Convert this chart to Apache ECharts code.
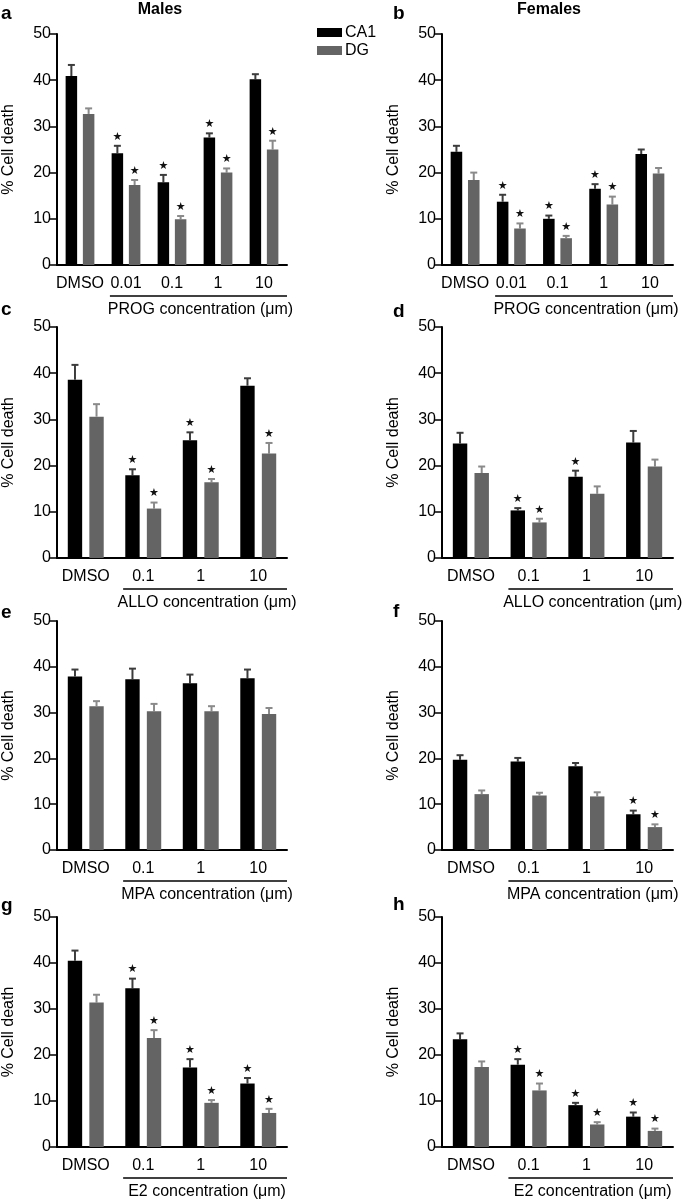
<!DOCTYPE html>
<html>
<head>
<meta charset="utf-8">
<script src="https://cdn.jsdelivr.net/npm/echarts@6/dist/echarts.min.js"></script>
<style>
html,body{margin:0;padding:0;background:#fff;}
#chart{width:685px;height:1201px;}
</style>
</head>
<body>
<div id="chart"></div>
<script>
// ---------- DATA ----------
const catsProg = ['DMSO', '0.01', '0.1', '1', '10'];
const catsOther = ['DMSO', '0.1', '1', '10'];
const seriesNames = ['CA1', 'DG'];
const yTicks = [0, 10, 20, 30, 40, 50];
const concLabels = ['PROG concentration (\u03bcm)', 'PROG concentration (\u03bcm)',
  'ALLO concentration (\u03bcm)', 'ALLO concentration (\u03bcm)',
  'MPA concentration (\u03bcm)', 'MPA concentration (\u03bcm)',
  'E2 concentration (\u03bcm)', 'E2 concentration (\u03bcm)'];
const panelLetters = ['a', 'b', 'c', 'd', 'e', 'f', 'g', 'h'];
const columnTitles = ['Males', 'Females'];

// panel a (Males, PROG)
const ca1Mean_a = [40.9, 24.2, 17.9, 27.6, 40.2];
const ca1Err_a  = [2.4, 1.6, 1.6, 0.9, 1.1];
const dgMean_a  = [32.7, 17.3, 9.9, 20.0, 25.0];
const dgErr_a   = [1.2, 1.1, 0.7, 0.9, 1.9];
const ca1Star_a = [0, 1, 1, 1, 0];
const dgStar_a  = [0, 1, 1, 1, 1];
// panel b (Females, PROG)
const ca1Mean_b = [24.5, 13.7, 10.0, 16.5, 24.0];
const ca1Err_b  = [1.3, 1.5, 0.7, 1.0, 1.0];
const dgMean_b  = [18.4, 7.9, 5.8, 13.1, 19.8];
const dgErr_b   = [1.6, 1.1, 0.5, 1.7, 1.2];
const ca1Star_b = [0, 1, 1, 1, 0];
const dgStar_b  = [0, 1, 1, 1, 0];
// panel c (Males, ALLO)
const ca1Mean_c = [38.6, 17.9, 25.5, 37.3];
const ca1Err_c  = [3.2, 1.3, 1.7, 1.6];
const dgMean_c  = [30.6, 10.7, 16.4, 22.6];
const dgErr_c   = [2.7, 1.3, 0.7, 2.3];
const ca1Star_c = [0, 1, 1, 0];
const dgStar_c  = [0, 1, 1, 1];
// panel d (Females, ALLO)
const ca1Mean_d = [24.8, 10.3, 17.6, 25.0];
const ca1Err_d  = [2.3, 0.5, 1.3, 2.5];
const dgMean_d  = [18.4, 7.7, 13.9, 19.8];
const dgErr_d   = [1.4, 0.8, 1.6, 1.5];
const ca1Star_d = [0, 1, 1, 0];
const dgStar_d  = [0, 1, 0, 0];
// panel e (Males, MPA)
const ca1Mean_e = [37.9, 37.3, 36.4, 37.5];
const ca1Err_e  = [1.5, 2.3, 1.9, 1.9];
const dgMean_e  = [31.4, 30.3, 30.3, 29.7];
const dgErr_e   = [1.1, 1.6, 1.1, 1.3];
const ca1Star_e = [0, 0, 0, 0];
const dgStar_e  = [0, 0, 0, 0];
// panel f (Females, MPA)
const ca1Mean_f = [19.7, 19.3, 18.3, 7.8];
const ca1Err_f  = [1.0, 0.8, 0.7, 0.8];
const dgMean_f  = [12.2, 11.9, 11.7, 5.0];
const dgErr_f   = [0.8, 0.6, 0.9, 0.6];
const ca1Star_f = [0, 0, 0, 1];
const dgStar_f  = [0, 0, 0, 1];
// panel g (Males, E2)
const ca1Mean_g = [40.5, 34.5, 17.3, 13.8];
const ca1Err_g  = [2.2, 2.1, 1.8, 1.2];
const dgMean_g  = [31.4, 23.7, 9.6, 7.4];
const dgErr_g   = [1.7, 1.7, 0.6, 0.9];
const ca1Star_g = [0, 1, 1, 1];
const dgStar_g  = [0, 1, 1, 1];
// panel h (Females, E2)
const ca1Mean_h = [23.4, 17.9, 9.1, 6.6];
const ca1Err_h  = [1.3, 1.2, 0.5, 0.9];
const dgMean_h  = [17.4, 12.3, 4.9, 3.5];
const dgErr_h   = [1.2, 1.5, 0.5, 0.5];
const ca1Star_h = [0, 1, 1, 1];
const dgStar_h  = [0, 1, 1, 1];

// ---------- LAYOUT ----------
const FONT = '"Liberation Sans", Arial, Helvetica, sans-serif';
const panels = [
  {cats: catsProg, m1: ca1Mean_a, e1: ca1Err_a, s1: ca1Star_a, m2: dgMean_a, e2: dgErr_a, s2: dgStar_a},
  {cats: catsProg, m1: ca1Mean_b, e1: ca1Err_b, s1: ca1Star_b, m2: dgMean_b, e2: dgErr_b, s2: dgStar_b},
  {cats: catsOther, m1: ca1Mean_c, e1: ca1Err_c, s1: ca1Star_c, m2: dgMean_c, e2: dgErr_c, s2: dgStar_c},
  {cats: catsOther, m1: ca1Mean_d, e1: ca1Err_d, s1: ca1Star_d, m2: dgMean_d, e2: dgErr_d, s2: dgStar_d},
  {cats: catsOther, m1: ca1Mean_e, e1: ca1Err_e, s1: ca1Star_e, m2: dgMean_e, e2: dgErr_e, s2: dgStar_e},
  {cats: catsOther, m1: ca1Mean_f, e1: ca1Err_f, s1: ca1Star_f, m2: dgMean_f, e2: dgErr_f, s2: dgStar_f},
  {cats: catsOther, m1: ca1Mean_g, e1: ca1Err_g, s1: ca1Star_g, m2: dgMean_g, e2: dgErr_g, s2: dgStar_g},
  {cats: catsOther, m1: ca1Mean_h, e1: ca1Err_h, s1: ca1Star_h, m2: dgMean_h, e2: dgErr_h, s2: dgStar_h}
];
const gridLefts = [54, 442];
const gridWidths = [233, 231];
const rowTops = [34, 327, 621, 917];
const rowHeights = [231, 231, 229, 230];
const barColors = ['#000000', '#646464'];
const errColors = ['#3c3c3c', '#8a8a8a'];

const grids = [], xAxes = [], yAxes = [], series = [];

panels.forEach((p, i) => {
  const col = i % 2, row = Math.floor(i / 2);
  grids.push({left: gridLefts[col], top: rowTops[row], width: gridWidths[col], height: rowHeights[row]});
  xAxes.push({
    type: 'category', gridIndex: i, data: p.cats, boundaryGap: true,
    axisLine: {lineStyle: {color: '#000', width: 2}},
    axisTick: {alignWithLabel: true, interval: 0, length: 7, lineStyle: {color: '#000', width: 2}},
    axisLabel: {color: '#000', fontSize: 16, fontFamily: FONT, margin: 11, interval: 0, hideOverlap: false}
  });
  yAxes.push({
    type: 'value', gridIndex: i, min: yTicks[0], max: yTicks[yTicks.length - 1], interval: 10,
    splitLine: {show: false},
    axisLine: {show: true, lineStyle: {color: '#000', width: 2}},
    axisTick: {show: true, length: 7, lineStyle: {color: '#000', width: 1.5}},
    axisLabel: {color: '#000', fontSize: 16, fontFamily: FONT, margin: 6},
    name: '% Cell death', nameLocation: 'middle', nameGap: 40,
    nameTextStyle: {color: '#000', fontSize: 16, fontFamily: FONT}
  });
  const groups = [[p.m1, p.e1, p.s1], [p.m2, p.e2, p.s2]];
  groups.forEach((g, k) => {
    series.push({
      type: 'bar', name: seriesNames[k], xAxisIndex: i, yAxisIndex: i,
      data: g[0], barWidth: '25%', barGap: '50%',
      itemStyle: {color: barColors[k]}, silent: true, animation: false
    });
  });
  groups.forEach((g, k) => {
    const offset = k === 0 ? -0.1875 : 0.1875;
    series.push({
      type: 'custom', xAxisIndex: i, yAxisIndex: i, silent: true, animation: false, clip: false,
      data: g[0].map((v, j) => [j, v, g[1][j], g[2][j]]),
      renderItem: function (params, api) {
        const band = api.size([1, 0])[0];
        const base = api.coord([api.value(0), api.value(1)]);
        const top = api.coord([api.value(0), api.value(1) + api.value(2)]);
        const x = base[0] + offset * band;
        const children = [
          {type: 'line', shape: {x1: x, y1: base[1], x2: x, y2: top[1]}, style: {stroke: errColors[k], lineWidth: 2}},
          {type: 'line', shape: {x1: x - 3.5, y1: top[1], x2: x + 3.5, y2: top[1]}, style: {stroke: errColors[k], lineWidth: 2}}
        ];
        if (api.value(3)) {
          children.push({type: 'text', style: {text: '\u2605', x: x, y: top[1] - 9, textAlign: 'center', textVerticalAlign: 'middle', fontSize: 11, fontFamily: 'DejaVu Sans', fill: '#111'}});
        }
        return {type: 'group', children: children};
      }
    });
  });
  // concentration underline + label
  series.push({
    type: 'custom', xAxisIndex: i, yAxisIndex: i, silent: true, animation: false, clip: false,
    data: [[1, 0]],
    renderItem: function (params, api) {
      const band = api.size([1, 0])[0];
      const start = api.coord([api.value(0), 0]);
      const x0 = start[0] - 0.35 * band;
      const x1 = params.coordSys.x + params.coordSys.width;
      const y = start[1] + 31;
      return {type: 'group', children: [
        {type: 'line', shape: {x1: x0, y1: y, x2: x1, y2: y}, style: {stroke: '#000', lineWidth: 1.5}},
        {type: 'text', style: {text: concLabels[i], x: (x0 + x1) / 2 + 2, y: y + 14, textAlign: 'center', textVerticalAlign: 'middle', fontSize: 16, fontFamily: FONT, fill: '#000'}}
      ]};
    }
  });
});

const letterPos = [[1, 14], [393, 14], [1, 310], [393, 312], [1, 613], [393, 612], [1, 906], [393, 905]];
const graphics = panelLetters.map((t, i) => ({
  type: 'text', x: letterPos[i][0], y: letterPos[i][1],
  style: {text: t, fontSize: 19, fontWeight: 'bold', fontFamily: FONT, fill: '#000', textVerticalAlign: 'middle'}
}));
graphics.push({type: 'text', x: 160, y: 10, style: {text: columnTitles[0], fontSize: 16, fontWeight: 'bold', fontFamily: FONT, fill: '#000', textAlign: 'center', textVerticalAlign: 'middle'}});
graphics.push({type: 'text', x: 549, y: 10, style: {text: columnTitles[1], fontSize: 16, fontWeight: 'bold', fontFamily: FONT, fill: '#000', textAlign: 'center', textVerticalAlign: 'middle'}});

const chart = echarts.init(document.getElementById('chart'), null, {renderer: 'canvas'});
chart.setOption({
  animation: false,
  backgroundColor: '#fff',
  color: barColors,
  grid: grids,
  xAxis: xAxes,
  yAxis: yAxes,
  legend: {
    data: seriesNames, orient: 'vertical', left: 317, top: 24, padding: 0,
    itemWidth: 25, itemHeight: 9, itemGap: 1, icon: 'rect',
    textStyle: {color: '#000', fontSize: 16, fontFamily: FONT, lineHeight: 17, padding: [0, 0, 0, -2]},
    selectedMode: false
  },
  graphic: graphics,
  series: series
});
</script>
</body>
</html>
